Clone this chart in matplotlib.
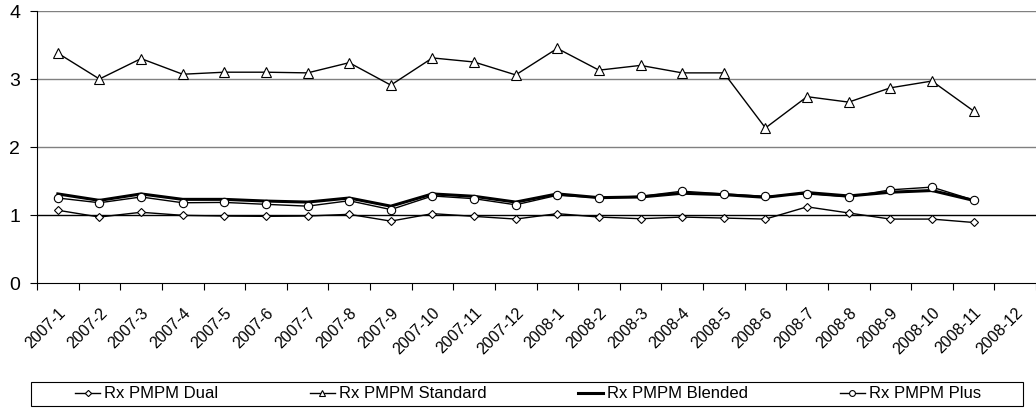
import matplotlib.pyplot as plt
from matplotlib.patches import Rectangle
import numpy as np

plt.rcParams['font.family'] = ['Liberation Sans', 'DejaVu Sans']

# 月份标签 (24 个类别, 数据只到 2008-11)
months = ['2007-%d' % m for m in range(1, 13)] + ['2008-%d' % m for m in range(1, 13)]

dual = [1.07, 0.97, 1.04, 0.995, 0.985, 0.98, 0.985, 1.01, 0.91, 1.02, 0.98, 0.94,
        1.02, 0.97, 0.945, 0.97, 0.955, 0.94, 1.12, 1.03, 0.94, 0.94, 0.89]
standard = [3.38, 3.00, 3.30, 3.07, 3.10, 3.10, 3.09, 3.24, 2.91, 3.31, 3.25, 3.06,
            3.45, 3.13, 3.20, 3.09, 3.09, 2.28, 2.74, 2.66, 2.87, 2.97, 2.53]
blended = [1.31, 1.215, 1.31, 1.23, 1.23, 1.205, 1.19, 1.25, 1.13, 1.31, 1.275, 1.19,
           1.31, 1.255, 1.265, 1.32, 1.30, 1.26, 1.33, 1.28, 1.335, 1.36, 1.215]
plus = [1.25, 1.18, 1.265, 1.18, 1.185, 1.157, 1.13, 1.21, 1.08, 1.28, 1.24, 1.15,
        1.29, 1.255, 1.275, 1.35, 1.31, 1.275, 1.31, 1.265, 1.37, 1.41, 1.22]
names = ['Rx PMPM Dual', 'Rx PMPM Standard', 'Rx PMPM Blended', 'Rx PMPM Plus']

W, H = 1036, 409
fig = plt.figure(figsize=(W / 100, H / 100), dpi=100)
ax = fig.add_axes([37 / W, 1 - 283 / H, 1 - 37 / W, 272 / H])

x = np.arange(len(dual)) + 0.5  # 点在类别中间

l1, = ax.plot(x, dual, color='black', linewidth=1.0, marker='D', markersize=4.5,
              markerfacecolor='white', markeredgecolor='black', markeredgewidth=0.8)
l2, = ax.plot(x, standard, color='black', linewidth=1.0, marker='^', markersize=6.5,
              markerfacecolor='white', markeredgecolor='black', markeredgewidth=0.8)
l3, = ax.plot(x, blended, color='black', linewidth=2.2)
l4, = ax.plot(x, plus, color='black', linewidth=1.0, marker='o', markersize=6,
              markerfacecolor='white', markeredgecolor='black', markeredgewidth=0.8)

ax.set_xlim(0, len(months))
ax.set_ylim(0, 4)
ax.set_yticks([0, 1, 2, 3, 4])

# 网格线
for v in [2, 3, 4]:
    ax.axhline(v, color='#808080', linewidth=1.0, zorder=0)
ax.axhline(1, color='black', linewidth=1.0, zorder=0)

# x 轴刻度在类别边界, 标签在类别中间
ax.set_xticks(np.arange(len(months) + 1))
ax.set_xticklabels([])
ax.set_xticks(np.arange(len(months)) + 0.5, minor=True)
ax.set_xticklabels(months, minor=True, rotation=45, ha='right', va='top',
                   rotation_mode='anchor', fontsize=11.5)
ax.tick_params(axis='x', which='minor', length=0, pad=16)
ax.tick_params(axis='x', which='major', length=5, direction='out')
ax.tick_params(axis='y', labelsize=14, length=5, direction='out', pad=7)

ax.spines['right'].set_color('none')
ax.spines['top'].set_color('none')

# 图例 (无框, 外框另画)
leg = fig.legend(handles=[l1, l2, l3, l4], labels=names,
                 loc='center', bbox_to_anchor=(528 / W, 1 - 394 / H),
                 ncol=4, fontsize=12, frameon=False, borderpad=0,
                 handlelength=1.5, handletextpad=0.24, columnspacing=5.5,
                 markerscale=0.7)
fig.patches.append(Rectangle((31 / W, 1 - 406 / H), 992 / W, 24 / H,
                             transform=fig.transFigure, fill=False,
                             edgecolor='black', linewidth=0.8))

plt.savefig('out.png', dpi=100)
